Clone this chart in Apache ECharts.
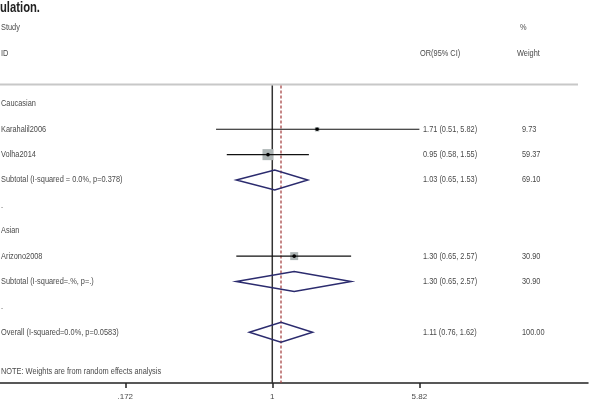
<!DOCTYPE html>
<html>
<head>
<meta charset="utf-8">
<script src="https://cdn.jsdelivr.net/npm/echarts@6/dist/echarts.min.js"></script>
<style>html,body{margin:0;padding:0;background:#fff;}#c{width:590px;height:417px;}</style>
</head>
<body>
<div id="c"></div>
<script>
// ---- data ----
const studyLabels = ["Caucasian", "Karahalil2006", "Volha2014", "Subtotal (I-squared = 0.0%, p=0.378)", ".",
  "Asian", "Arizono2008", "Subtotal (I-squared=.%, p=.)", ".", "Overall (I-squared=0.0%, p=0.0583)"];
const rowTypes = ["group", "study", "study", "subtotal", "blank", "group", "study", "subtotal", "blank", "overall"];
const estOR = [null, 1.71, 0.95, 1.03, null, null, 1.30, 1.30, null, 1.11];
const lowerCI = [null, 0.51, 0.58, 0.65, null, null, 0.65, 0.65, null, 0.76];
const upperCI = [null, 5.82, 1.55, 1.53, null, null, 2.57, 2.57, null, 1.62];
const weights = [null, 9.73, 59.37, 69.10, null, null, 30.90, 30.90, null, 100.00];
const orText = ["", "1.71 (0.51, 5.82)", "0.95 (0.58, 1.55)", "1.03 (0.65, 1.53)", "", "", "1.30 (0.65, 2.57)", "1.30 (0.65, 2.57)", "", "1.11 (0.76, 1.62)"];
const weightText = ["", "9.73", "59.37", "69.10", "", "", "30.90", "30.90", "", "100.00"];
const headerLeft = ["Study", "ID"];
const headerOR = ["", "OR(95% CI)"];
const headerWeight = ["%", "Weight"];
const noteText = "NOTE: Weights are from random effects analysis";
const pooledOR = 1.11;
const nullOR = 1;
const tickValues = [0.172, 1, 5.82];
const tickLabels = [".172", "1", "5.82"];
const titleText = "ulation.";

// ---- layout/style constants ----
const FONT = "'Liberation Sans', Arial, sans-serif";
const TXT = '#4a4a4a';
const FS = 9;
const NARROW = 0.82;
const X_MIN = -3.26, X_MAX = 3.78;
const COL_LEFT = 1, COL_OR = 423, COL_W = 522;
const SEP_ROW = -0.76;

const markTypeCode = {study: 0, subtotal: 1, overall: 1};
const markData = [];
rowTypes.forEach((t, i) => {
  if (t in markTypeCode) {
    markData.push([Math.log(estOR[i]), i, Math.log(lowerCI[i]), Math.log(upperCI[i]), weights[i], markTypeCode[t]]);
  }
});

const textRows = studyLabels.map((s, i) => [X_MIN, i, i]);
const headerRows = [[X_MIN, -3, 0], [X_MIN, -2, 1]];

const lnTicks = tickValues.map(v => Math.log(v));

const chart = echarts.init(document.getElementById('c'), null, {renderer: 'canvas'});

function txt(x, y, s) {
  return {type: 'text', x: x, y: y, scaleX: NARROW,
    style: {text: s, fill: TXT, font: FS + 'px ' + FONT, verticalAlign: 'middle'}};
}

chart.setOption({
  animation: false,
  backgroundColor: '#fff',
  grid: {left: 0, right: 2, top: 0, bottom: 34},
  xAxis: {
    type: 'value', min: X_MIN, max: X_MAX,
    splitLine: {show: false},
    axisLine: {show: true, onZero: false, lineStyle: {color: '#222', width: 1.5}},
    axisTick: {show: true, length: 5, lineStyle: {color: '#222', width: 1.5}, customValues: lnTicks},
    axisLabel: {
      show: true, customValues: lnTicks, margin: 10, color: TXT, fontSize: 8, fontFamily: FONT,
      formatter: function (v) {
        let best = 0;
        lnTicks.forEach((t, k) => { if (Math.abs(t - v) < Math.abs(lnTicks[best] - v)) best = k; });
        return tickLabels[best];
      }
    }
  },
  yAxis: {type: 'value', inverse: true, min: -4.094, max: 11, show: false},
  graphic: [
    {type: 'text', x: 0, y: 0, scaleX: 0.75, style: {text: titleText, fill: '#222', font: 'bold 15px ' + FONT}}
  ],
  series: [
    {
      // separator and reference lines
      type: 'custom', silent: true, clip: false,
      data: [[0, SEP_ROW]],
      renderItem: function (params, api) {
        const ySep = api.coord([0, SEP_ROW])[1];
        const yBot = api.coord([0, 11])[1];
        const x1 = api.coord([Math.log(nullOR), 0])[0];
        const xp = api.coord([Math.log(pooledOR), 0])[0];
        return {type: 'group', children: [
          {type: 'line', shape: {x1: 0, y1: ySep, x2: 578, y2: ySep}, style: {stroke: '#c8c8c8', lineWidth: 2}},
          {type: 'line', shape: {x1: x1, y1: ySep + 1, x2: x1, y2: yBot}, style: {stroke: '#333', lineWidth: 1.5}},
          {type: 'line', shape: {x1: xp, y1: ySep + 1, x2: xp, y2: yBot}, style: {stroke: '#a84848', lineWidth: 1.3, lineDash: [3, 2]}}
        ]};
      }
    },
    {
      // study marks and diamonds
      type: 'custom', silent: true, clip: false,
      encode: {x: [0, 2, 3], y: 1},
      data: markData,
      renderItem: function (params, api) {
        const row = api.value(1);
        const y = api.coord([0, row])[1];
        const xe = api.coord([api.value(0), row])[0];
        const xl = api.coord([api.value(2), row])[0];
        const xh = api.coord([api.value(3), row])[0];
        const w = api.value(4);
        if (api.value(5) === 0) {
          const side = 1.43 * Math.sqrt(w);
          return {type: 'group', children: [
            {type: 'rect', shape: {x: xe - side / 2, y: y - side / 2, width: side, height: side}, style: {fill: '#adb5b5'}},
            {type: 'line', shape: {x1: xl, y1: y, x2: xh, y2: y}, style: {stroke: '#111', lineWidth: 1.2}},
            {type: 'circle', shape: {cx: xe, cy: y, r: 1.8}, style: {fill: '#000'}}
          ]};
        }
        return {type: 'polygon', shape: {points: [[xl, y], [xe, y - 10], [xh, y], [xe, y + 10]]},
          style: {fill: 'none', stroke: '#2b2b6e', lineWidth: 1.5}};
      }
    },
    {
      // row texts
      type: 'custom', silent: true, clip: false,
      data: textRows,
      renderItem: function (params, api) {
        const i = api.value(2);
        const y = api.coord([X_MIN, api.value(1)])[1];
        const kids = [txt(COL_LEFT, y, studyLabels[i])];
        if (orText[i]) kids.push(txt(COL_OR, y, orText[i]));
        if (weightText[i]) kids.push(txt(COL_W, y, weightText[i]));
        return {type: 'group', children: kids};
      }
    },
    {
      // header texts and note
      type: 'custom', silent: true, clip: false,
      data: headerRows,
      renderItem: function (params, api) {
        const i = api.value(2);
        const y = api.coord([X_MIN, api.value(1)])[1];
        const kids = [txt(COL_LEFT, y, headerLeft[i])];
        if (headerOR[i]) kids.push(txt(COL_OR - 3, y, headerOR[i]));
        if (headerWeight[i]) kids.push(txt(i === 0 ? COL_W - 2 : COL_W - 5, y, headerWeight[i]));
        if (i === 0) {
          const yn = api.coord([X_MIN, 10.55])[1];
          kids.push(txt(COL_LEFT, yn, noteText));
        }
        return {type: 'group', children: kids};
      }
    }
  ]
});
</script>
</body>
</html>
